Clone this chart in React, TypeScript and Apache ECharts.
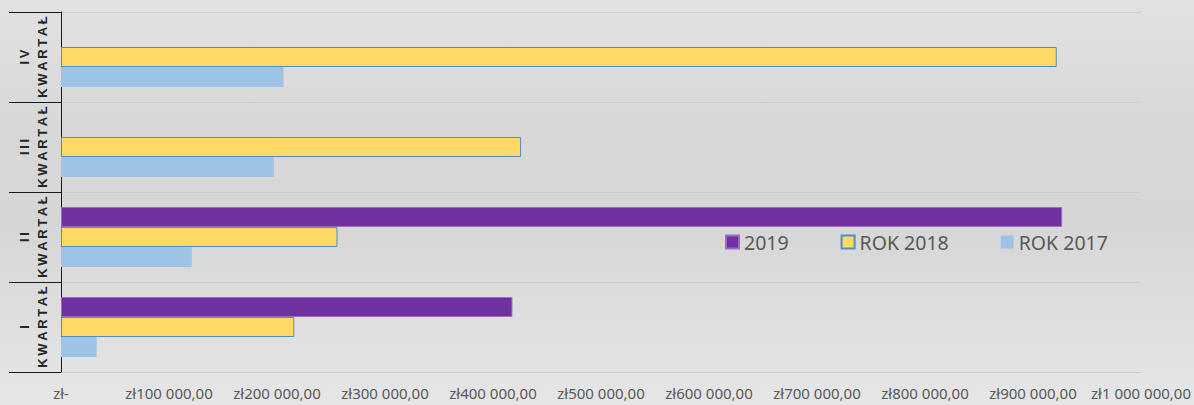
import React, { useEffect, useRef } from "react";
import * as echarts from "echarts";

const categories = ["I", "II", "III", "IV"];
const categoryLabels = ["I", "I\u2009I", "I\u2009I\u2009I", "I\u2009V"];
const quarterWord = "K\u2009W\u2009A\u2009R\u2009T\u2009A\u2009Ł";
const seriesNames = ["2019", "ROK 2018", "ROK 2017"];
const values2019: (number | null)[] = [418000, 927000, null, null];
const values2018: number[] = [216000, 256000, 426000, 922000];
const values2017: number[] = [33000, 121000, 197000, 206000];
const axisMin = 0;
const axisMax = 1000000;
const axisInterval = 100000;

function fmt(v: number): string {
  if (v === 0) return "zł-";
  const s = Math.round(v).toString().replace(/\B(?=(\d{3})+(?!\d))/g, " ");
  return "zł" + s + ",00";
}

export default function App() {
  const ref = useRef<HTMLDivElement>(null);
  useEffect(() => {
    if (!ref.current) return;
    const chart = echarts.init(ref.current, undefined, { renderer: "svg" });
    chart.setOption({
      animation: false,
      backgroundColor: "transparent",
      grid: { left: 61, right: 53, top: 12, bottom: 33, containLabel: false },
      legend: {
        data: seriesNames,
        left: 720,
        top: 227,
        icon: "rect",
        itemWidth: 13,
        itemHeight: 13,
        itemGap: 52,
        textStyle: { color: "#595959", fontSize: 19.5, fontFamily: "Noto Sans" },
      },
      xAxis: {
        type: "value",
        min: axisMin,
        max: axisMax,
        interval: axisInterval,
        axisLine: { show: false },
        axisTick: { show: false },
        splitLine: { show: false },
        axisLabel: {
          formatter: (v: number) => fmt(v),
          color: "#595959",
          fontSize: 15,
          fontFamily: "Noto Sans",
          margin: 13,
        },
      },
      yAxis: {
        type: "category",
        data: categories,
        axisLine: { show: true, lineStyle: { color: "#1a1a1a", width: 1 } },
        axisTick: { show: true, interval: 0, length: 52, lineStyle: { color: "#1a1a1a", width: 1 } },
        splitLine: { show: true, interval: 0, lineStyle: { color: "#cdcdcd", width: 1 } },
        axisLabel: {
          interval: 0,
          rotate: 90,
          margin: 28,
          align: "center",
          verticalAlign: "middle",
          lineHeight: 18,
          fontSize: 13,
          fontWeight: "bold",
          fontFamily: "Liberation Sans",
          color: "#262626",
          formatter: (v: string) => {
            const i = categories.indexOf(v);
            return categoryLabels[i] + "\n" + quarterWord;
          },
        },
      },
      series: [
        {
          name: "2019",
          type: "bar",
          data: values2019,
          barWidth: 20,
          barGap: "0%",
          barCategoryGap: "33%",
          itemStyle: { color: "#7030A0", borderColor: "#9a6cc4", borderWidth: 1 },
        },
        {
          name: "ROK 2018",
          type: "bar",
          data: values2018,
          barWidth: 20,
          barGap: "0%",
          itemStyle: { color: "#FFD966", borderColor: "#4f8fc4", borderWidth: 1 },
        },
        {
          name: "ROK 2017",
          type: "bar",
          data: values2017,
          barWidth: 20,
          barGap: "0%",
          itemStyle: { color: "#9DC3E6" },
        },
      ],
    });
    return () => chart.dispose();
  }, []);
  return (
    <div
      style={{
        position: "absolute",
        left: 0,
        top: 0,
        width: 1194,
        height: 405,
        background:
          "linear-gradient(to bottom, #e2e2e2 0%, #d8d8d8 30%, #d6d6d6 55%, #e6e6e6 100%)",
      }}
    >
      <div ref={ref} style={{ width: 1194, height: 405 }} />
    </div>
  );
}
